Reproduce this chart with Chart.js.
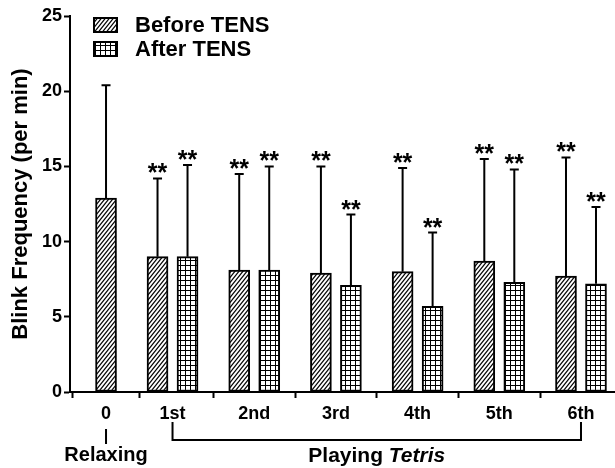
<!DOCTYPE html>
<html>
<head>
<meta charset="utf-8">
<title>Blink Frequency</title>
<script src="https://cdn.jsdelivr.net/npm/chart.js@4.4.1/dist/chart.umd.min.js"></script>
<style>
  html, body { margin: 0; padding: 0; background: #fff; }
  #wrap { width: 615px; height: 468px; }
</style>
</head>
<body>
<div id="wrap"><canvas id="c" width="615" height="468"></canvas></div>
<script>
// Session labels along the x axis
const categories = ['0', '1st', '2nd', '3rd', '4th', '5th', '6th'];
const seriesNames = ['Before TENS', 'After TENS'];

// Mean blink frequency (per min) and standard deviation
const beforeMean = [12.9, 9.0, 8.1, 7.9, 8.0, 8.7, 7.7];
const beforeSD   = [7.5, 5.2, 6.4, 7.1, 6.9, 6.8, 7.9];
const afterMean  = [null, 9.0, 8.1, 7.1, 5.7, 7.3, 7.2];
const afterSD    = [null, 6.1, 6.9, 4.7, 4.9, 7.5, 5.1];

// Significance markers drawn above the error bars
const beforeSig = ['', '**', '**', '**', '**', '**', '**'];
const afterSig  = [null, '**', '**', '**', '**', '**', '**'];

// Y axis range
const yMin = 0, yMax = 25, yStep = 5;

const FONT = '"Liberation Sans", Arial, Helvetica, sans-serif';
Chart.defaults.font.family = FONT;
Chart.defaults.color = '#000';

// Slot positions on the x scale: the relaxing baseline sits a little closer
const slotX = [0.186, 1, 2, 3, 4, 5, 6];

function makeHatch() {
  const w = 4, h = 5;
  const c = document.createElement('canvas');
  c.width = w; c.height = h;
  const g = c.getContext('2d');
  g.fillStyle = '#fff'; g.fillRect(0, 0, w, h);
  g.strokeStyle = '#000'; g.lineWidth = 1.2;
  for (let k = -1; k <= 1; k++) {
    g.beginPath();
    g.moveTo(k * w - w, 2 * h);
    g.lineTo(k * w + 2 * w, -h);
    g.stroke();
  }
  return g.createPattern(c, 'repeat');
}
function makeGrid() {
  const s = 5;
  const c = document.createElement('canvas');
  c.width = s; c.height = s;
  const g = c.getContext('2d');
  g.fillStyle = '#fff'; g.fillRect(0, 0, s, s);
  g.fillStyle = '#000';
  g.fillRect(0, 0, 1, s);
  g.fillRect(0, 0, s, 1);
  return g.createPattern(c, 'repeat');
}

const ctx = document.getElementById('c').getContext('2d');
const fills = [makeHatch(), makeGrid()];
const means = [beforeMean, afterMean];
const sds = [beforeSD, afterSD];
const sigs = [beforeSig, afterSig];

// Upward-only error bars with caps, plus significance stars
const errorBars = {
  id: 'errorBars',
  afterDatasetsDraw(chart) {
    const c = chart.ctx, y = chart.scales.y;
    c.save();
    c.strokeStyle = '#000';
    c.fillStyle = '#000';
    c.lineWidth = 2;
    c.font = 'bold 25px ' + FONT;
    c.textAlign = 'center';
    c.textBaseline = 'alphabetic';
    chart.data.datasets.forEach((ds, di) => {
      const meta = chart.getDatasetMeta(di);
      meta.data.forEach((bar, i) => {
        const m = means[di][i];
        if (m == null) return;
        const top = y.getPixelForValue(m + sds[di][i]);
        c.beginPath();
        c.moveTo(bar.x, bar.y);
        c.lineTo(bar.x, top);
        c.moveTo(bar.x - 4.5, top);
        c.lineTo(bar.x + 4.5, top);
        c.stroke();
        const s = sigs[di][i];
        if (s) c.fillText(s, bar.x, top + 3);
      });
    });
    c.restore();
  }
};

// Legend with hatched swatches in the upper-left of the plot
const legendBox = {
  id: 'legendBox',
  afterDraw(chart) {
    const c = chart.ctx, a = chart.chartArea;
    c.save();
    seriesNames.forEach((name, i) => {
      const bx = a.left + 23, by = a.top + 1 + i * 24;
      c.fillStyle = fills[i];
      c.fillRect(bx, by, 25, 16);
      c.strokeStyle = '#000';
      c.lineWidth = 2;
      c.strokeRect(bx + 1, by + 1, 23, 14);
      c.fillStyle = '#000';
      c.font = 'bold 22px ' + FONT;
      c.textAlign = 'left';
      c.textBaseline = 'middle';
      c.fillText(name, bx + 42, by + 9);
    });
    c.restore();
  }
};

// Condition labels beneath the session ticks
const conditions = {
  id: 'conditions',
  afterDraw(chart) {
    const c = chart.ctx, x = chart.scales.x;
    const px0 = x.getPixelForValue(slotX[0]);
    const px1 = x.getPixelForValue(slotX[1]);
    const px6 = x.getPixelForValue(slotX[slotX.length - 1]);
    c.save();
    c.strokeStyle = '#000';
    c.lineWidth = 2;
    c.beginPath();
    c.moveTo(px0, 429); c.lineTo(px0, 444);
    c.moveTo(px1, 422); c.lineTo(px1, 440); c.lineTo(px6, 440); c.lineTo(px6, 422);
    c.stroke();
    c.fillStyle = '#000';
    c.textBaseline = 'alphabetic';
    c.textAlign = 'center';
    c.font = 'bold 20px ' + FONT;
    c.fillText('Relaxing', px0, 461);
    const a = 'Playing ', b = 'Tetris';
    c.font = 'bold 21px ' + FONT;
    const wa = c.measureText(a).width;
    c.font = 'italic bold 21px ' + FONT;
    const wb = c.measureText(b).width;
    const start = (px1 + px6) / 2 - (wa + wb) / 2;
    c.textAlign = 'left';
    c.font = 'bold 21px ' + FONT;
    c.fillText(a, start, 462);
    c.font = 'italic bold 21px ' + FONT;
    c.fillText(b, start + wa, 462);
    c.restore();
  }
};

new Chart(ctx, {
  type: 'bar',
  data: {
    datasets: [0, 1].map(di => ({
      label: seriesNames[di],
      data: means[di].map((v, i) => ({ x: slotX[i], y: v })),
      backgroundColor: fills[di],
      borderColor: '#000',
      borderWidth: 2,
      borderSkipped: false,
      skipNull: true,
      barThickness: 30,
      maxBarThickness: 21
    }))
  },
  options: {
    responsive: false,
    animation: false,
    devicePixelRatio: 1,
    layout: { padding: { top: 16, right: 1, bottom: 0, left: 0 } },
    plugins: { legend: { display: false }, tooltip: { enabled: false } },
    scales: {
      x: {
        type: 'linear',
        min: -0.255,
        max: 6.404,
        offset: false,
        afterBuildTicks: s => { s.ticks = slotX.map(v => ({ value: v })); },
        afterFit: s => { s.height = 76; },
        ticks: {
          autoSkip: false,
          maxRotation: 0,
          padding: 5,
          color: '#000',
          font: { size: 18, weight: 'bold' },
          callback: (v, i) => categories[i]
        },
        grid: { drawOnChartArea: false, drawTicks: true, tickLength: 6, tickColor: '#000', tickWidth: 2 },
        border: { display: true, color: '#000', width: 2 }
      },
      y: {
        min: yMin,
        max: yMax,
        afterFit: s => { s.width = 70; },
        ticks: { stepSize: yStep, padding: 2, color: '#000', font: { size: 18, weight: 'bold' } },
        grid: { drawOnChartArea: false, drawTicks: true, tickLength: 6, tickColor: '#000', tickWidth: 2 },
        border: { display: true, color: '#000', width: 2 },
        title: {
          display: true,
          text: 'Blink Frequency (per min)',
          color: '#000',
          font: { size: 22, weight: 'bold' },
          padding: { top: 8, bottom: 0 }
        }
      }
    }
  },
  plugins: [errorBars, legendBox, conditions]
});
</script>
</body>
</html>
